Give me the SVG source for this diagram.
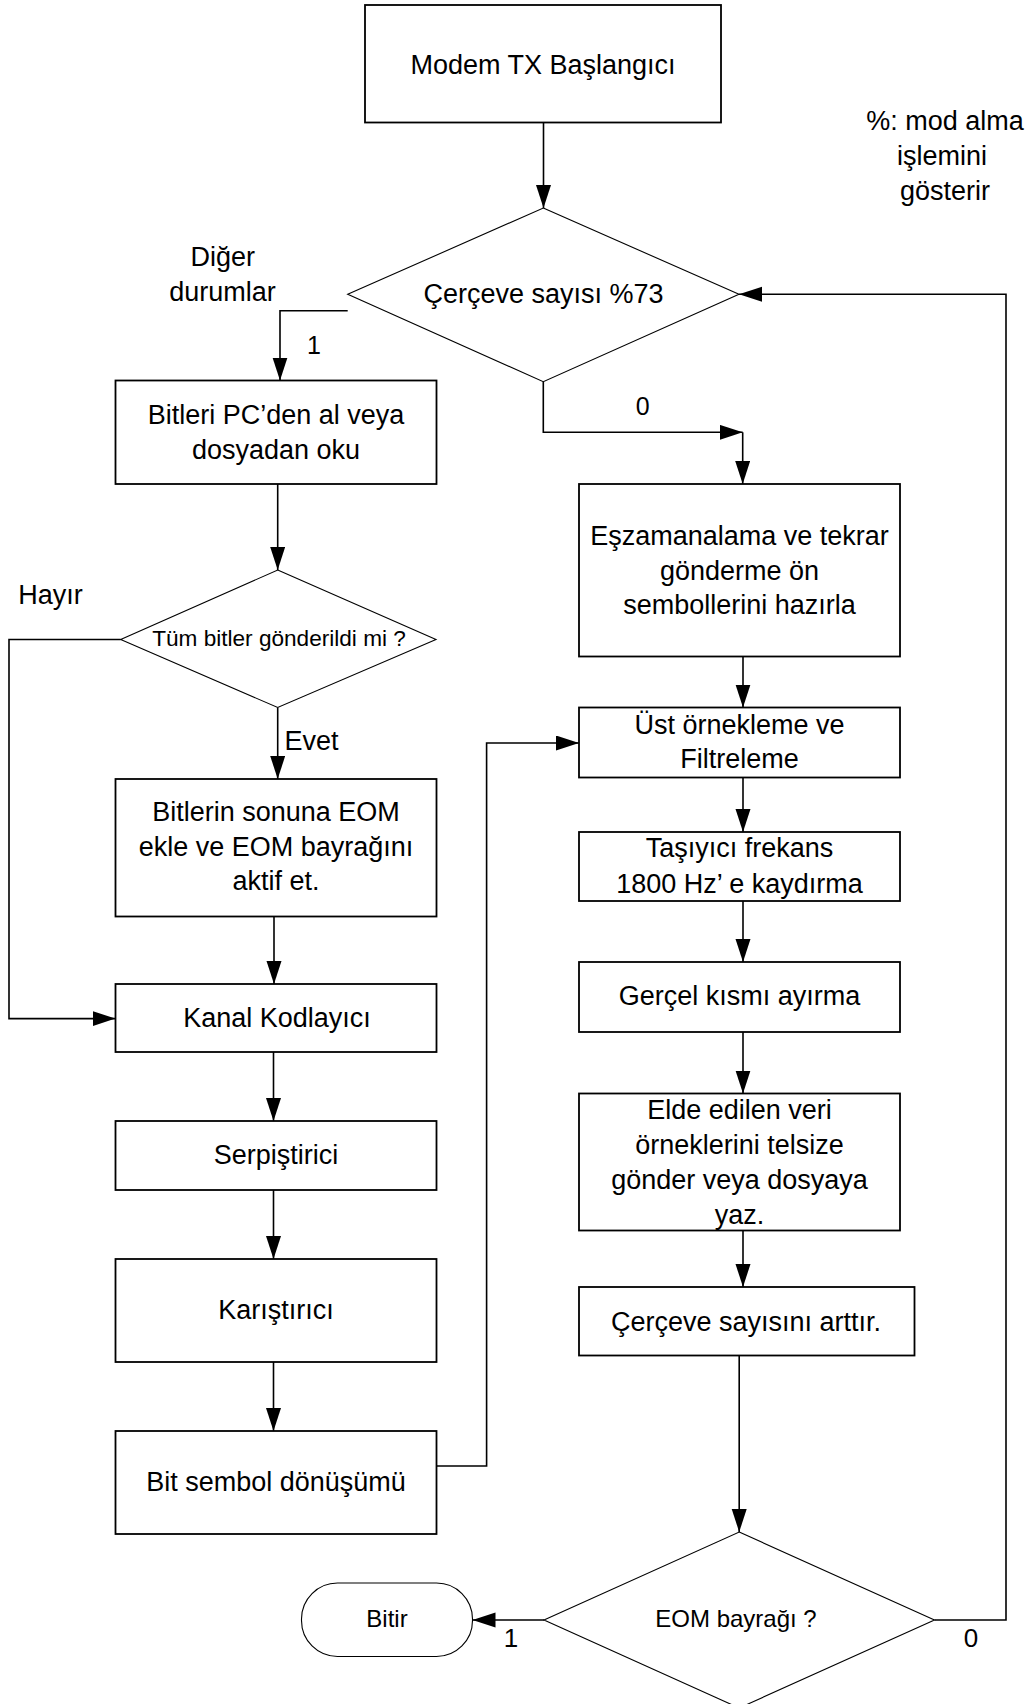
<svg xmlns="http://www.w3.org/2000/svg" width="1034" height="1704" viewBox="0 0 1034 1704">
<style>
.box{fill:#fff;stroke:#000;stroke-width:1.8}
.dia{fill:#fff;stroke:#000;stroke-width:1.1}
.ln{fill:none;stroke:#000;stroke-width:1.6}
.t{font-family:"Liberation Sans",Arial,sans-serif;font-size:27px;fill:#000;text-anchor:middle}
.a{font-family:"Liberation Sans",Arial,sans-serif;fill:#000;text-anchor:middle}
</style>
<defs>
<marker id="ah" markerUnits="userSpaceOnUse" markerWidth="24" markerHeight="16" refX="23" refY="7.5" orient="auto">
<path d="M0,0 L23,7.5 L0,15 z" fill="#000"/>
</marker>
</defs>
<rect x="0" y="0" width="1034" height="1704" fill="#fff"/>

<g id="connectors">
<path class="ln" d="M543.5,122.5 V208" marker-end="url(#ah)"/>
<path class="ln" d="M347.7,310.7 H280 V380.5" marker-end="url(#ah)"/>
<path class="ln" d="M543.3,381.7 V432.3 H742.7" marker-end="url(#ah)"/>
<path class="ln" d="M742.7,432.3 V484" marker-end="url(#ah)"/>
<path class="ln" d="M277.7,484 V570" marker-end="url(#ah)"/>
<path class="ln" d="M277.7,707.5 V779" marker-end="url(#ah)"/>
<path class="ln" d="M120.7,639.5 H9 V1018.6 H115.5" marker-end="url(#ah)"/>
<path class="ln" d="M274,916.5 V984" marker-end="url(#ah)"/>
<path class="ln" d="M273.5,1052 V1121" marker-end="url(#ah)"/>
<path class="ln" d="M273.5,1190 V1259" marker-end="url(#ah)"/>
<path class="ln" d="M273.5,1362 V1431" marker-end="url(#ah)"/>
<path class="ln" d="M436.5,1466 H486.6 V743 H579" marker-end="url(#ah)"/>
<path class="ln" d="M743,656.5 V707.5" marker-end="url(#ah)"/>
<path class="ln" d="M743,777.5 V832" marker-end="url(#ah)"/>
<path class="ln" d="M743,901 V962" marker-end="url(#ah)"/>
<path class="ln" d="M743,1032 V1093.5" marker-end="url(#ah)"/>
<path class="ln" d="M743,1230.5 V1287" marker-end="url(#ah)"/>
<path class="ln" d="M739.2,1355.5 V1532" marker-end="url(#ah)"/>
<path class="ln" d="M544,1620 H472.5" marker-end="url(#ah)"/>
<path class="ln" d="M934.5,1620 H1006 V294.3 H739" marker-end="url(#ah)"/>
</g>

<g id="labels">
<text class="t" x="222.8" y="266">Diğer</text>
<text class="t" x="222.5" y="300.7">durumlar</text>
<text class="a" x="314" y="354" font-size="25">1</text>
<text class="a" x="642.7" y="415" font-size="25">0</text>
<text class="t" x="50.5" y="604">Hayır</text>
<text class="t" x="311.5" y="749.5">Evet</text>
<text class="a" x="511" y="1647" font-size="26">1</text>
<text class="a" x="971" y="1647" font-size="26">0</text>
<text class="t" x="945" y="130">%: mod alma</text>
<text class="t" x="942" y="165">işlemini</text>
<text class="t" x="945" y="200">gösterir</text>
</g>

<g id="start">
<rect class="box" x="365" y="5" width="356" height="117.5"/>
<text class="t" x="543" y="74">Modem TX Başlangıcı</text>
</g>

<g id="frame-mod">
<polygon class="dia" points="543.3,208 739,294.3 543.3,381.7 347.7,294.3"/>
<text class="t" x="543.5" y="303">Çerçeve sayısı %73</text>
</g>

<g id="get-bits">
<rect class="box" x="115.5" y="380.5" width="321" height="103.5"/>
<text class="t" x="276" y="424">Bitleri PC’den al veya</text>
<text class="t" x="276" y="459">dosyadan oku</text>
</g>

<g id="all-sent">
<polygon class="dia" points="277.7,570 436,639.5 277.7,707.5 120.7,639.5"/>
<text class="a" x="279" y="646" font-size="22.6">Tüm bitler gönderildi mi ?</text>
</g>

<g id="add-eom">
<rect class="box" x="115.5" y="779" width="321" height="137.5"/>
<text class="t" x="276" y="821">Bitlerin sonuna EOM</text>
<text class="t" x="276" y="855.5">ekle ve EOM bayrağını</text>
<text class="t" x="276" y="890">aktif et.</text>
</g>

<g id="channel-coder">
<rect class="box" x="115.5" y="984" width="321" height="68"/>
<text class="t" x="277" y="1026.5">Kanal Kodlayıcı</text>
</g>

<g id="interleaver">
<rect class="box" x="115.5" y="1121" width="321" height="69"/>
<text class="t" x="276" y="1164">Serpiştirici</text>
</g>

<g id="scrambler">
<rect class="box" x="115.5" y="1259" width="321" height="103"/>
<text class="t" x="276" y="1319">Karıştırıcı</text>
</g>

<g id="bit-symbol">
<rect class="box" x="115.5" y="1431" width="321" height="103"/>
<text class="t" x="276" y="1491">Bit sembol dönüşümü</text>
</g>

<g id="sync">
<rect class="box" x="579" y="484" width="321" height="172.5"/>
<text class="t" x="739.5" y="545">Eşzamanalama ve tekrar</text>
<text class="t" x="739.5" y="579.5">gönderme ön</text>
<text class="t" x="739.5" y="614">sembollerini hazırla</text>
</g>

<g id="upsample">
<rect class="box" x="579" y="707.5" width="321" height="70"/>
<text class="t" x="739.5" y="734">Üst örnekleme ve</text>
<text class="t" x="739.5" y="768">Filtreleme</text>
</g>

<g id="carrier">
<rect class="box" x="579" y="832" width="321" height="69"/>
<text class="t" x="739.5" y="857">Taşıyıcı frekans</text>
<text class="t" x="739.5" y="893">1800 Hz’ e kaydırma</text>
</g>

<g id="real-part">
<rect class="box" x="579" y="962" width="321" height="70"/>
<text class="t" x="739.5" y="1005">Gerçel kısmı ayırma</text>
</g>

<g id="send">
<rect class="box" x="579" y="1093.5" width="321" height="137"/>
<text class="t" x="739.5" y="1119">Elde edilen veri</text>
<text class="t" x="739.5" y="1154">örneklerini telsize</text>
<text class="t" x="739.5" y="1189">gönder veya dosyaya</text>
<text class="t" x="739.5" y="1224">yaz.</text>
</g>

<g id="increment">
<rect class="box" x="579" y="1287" width="335.5" height="68.5"/>
<text class="t" x="746" y="1331">Çerçeve sayısını arttır.</text>
</g>

<g id="eom-flag">
<polygon class="dia" points="739.2,1532 934.5,1620 739.2,1708 544,1620"/>
<text class="a" x="736" y="1627" font-size="24">EOM bayrağı ?</text>
</g>

<g id="end">
<rect class="dia" x="301.5" y="1583" width="171" height="73.5" rx="36" ry="36"/>
<text class="a" x="387" y="1627" font-size="24">Bitir</text>
</g>
</svg>
